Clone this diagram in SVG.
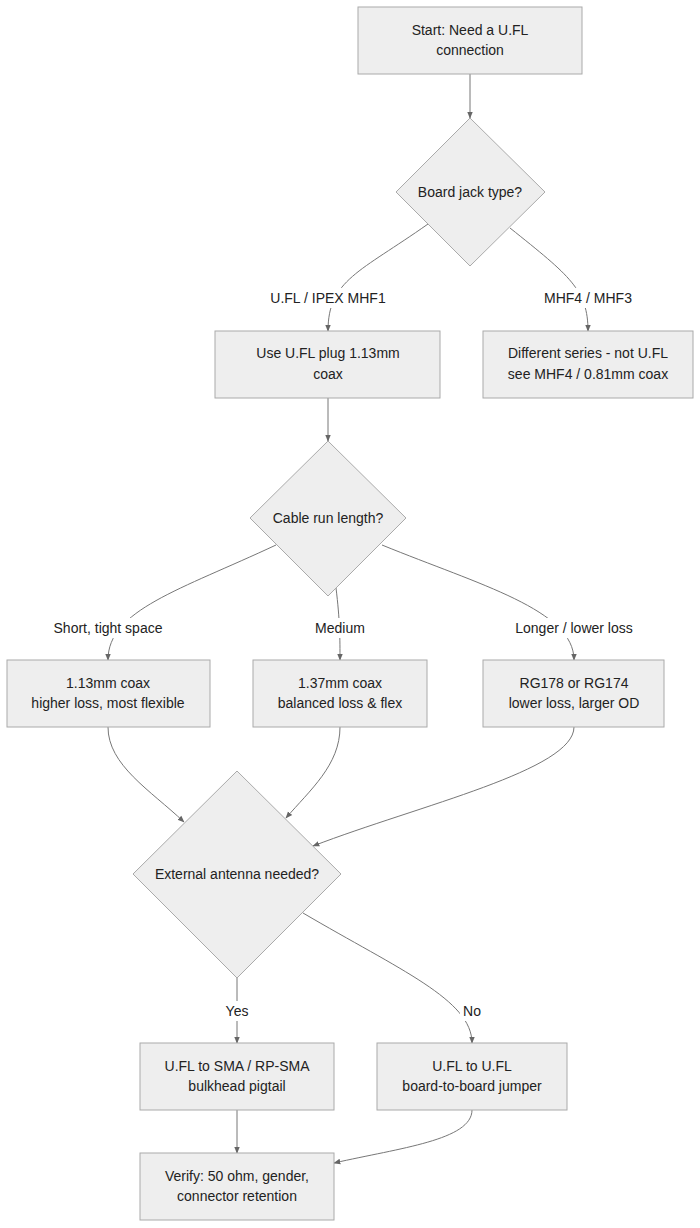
<svg xmlns="http://www.w3.org/2000/svg" width="700" height="1228" viewBox="0 0 700 1228">
<style>
.n{fill:#eeeeee;stroke:#aaaaaa;stroke-width:1}
.t{font-family:"Liberation Sans",Arial,sans-serif;font-size:14px;fill:#222;text-anchor:middle}
.e{fill:none;stroke:#777;stroke-width:1;marker-end:url(#a)}
.lb{fill:#fff}
</style>
<defs><marker id="a" viewBox="0 0 10 10" refX="9" refY="5" markerWidth="7" markerHeight="7" orient="auto"><path d="M0,1 L10,5 L0,9 z" fill="#666"/></marker></defs>
<rect width="700" height="1228" fill="#fff"/>
<g id="connectors">
<path class="e" d="M470,74 L470,118"/>
<path class="e" d="M428,224 C360,272 328,280 328,331"/>
<path class="e" d="M510,228 C570,276 588,290 588,331"/>
<path class="e" d="M328,398 L328,441"/>
<path class="e" d="M276,545 C180,590 108,610 108,660"/>
<path class="e" d="M336,588 C340,620 340,640 340,660"/>
<path class="e" d="M382,545 C480,585 574,610 574,660"/>
<path class="e" d="M108,727 C108,765 150,790 184,822"/>
<path class="e" d="M340,727 C340,765 310,790 286,818"/>
<path class="e" d="M574,727 C574,770 420,805 313,846"/>
<path class="e" d="M237,978 L237,1043"/>
<path class="e" d="M303,913 C400,970 472,1000 472,1043"/>
<path class="e" d="M237,1110 L237,1153"/>
<path class="e" d="M472,1110 C472,1140 400,1148 334,1163"/>
<rect class="lb" x="268" y="288" width="120" height="20"/>
<text class="t" x="328" y="303">U.FL / IPEX MHF1</text>
<rect class="lb" x="542" y="288" width="92" height="20"/>
<text class="t" x="588" y="303">MHF4 / MHF3</text>
<rect class="lb" x="52" y="618" width="112" height="20"/>
<text class="t" x="108" y="633">Short, tight space</text>
<rect class="lb" x="313" y="618" width="54" height="20"/>
<text class="t" x="340" y="633">Medium</text>
<rect class="lb" x="512" y="618" width="124" height="20"/>
<text class="t" x="574" y="633">Longer / lower loss</text>
<rect class="lb" x="222" y="1001" width="30" height="20"/>
<text class="t" x="237" y="1016">Yes</text>
<rect class="lb" x="460" y="1001" width="24" height="20"/>
<text class="t" x="472" y="1016">No</text>
</g>
<g id="start"><rect class="n" x="358" y="7" width="224" height="67"/><text class="t" x="470" y="35">Start: Need a U.FL</text><text class="t" x="470" y="55">connection</text></g>
<g id="d1"><polygon class="n" points="470,118 545,192 470,266 396,192"/><text class="t" x="470" y="197">Board jack type?</text></g>
<g id="b2"><rect class="n" x="215" y="331" width="225" height="67"/><text class="t" x="328" y="358">Use U.FL plug 1.13mm</text><text class="t" x="328" y="379">coax</text></g>
<g id="b3"><rect class="n" x="483" y="331" width="210" height="67"/><text class="t" x="588" y="358">Different series - not U.FL</text><text class="t" x="588" y="379">see MHF4 / 0.81mm coax</text></g>
<g id="d2"><polygon class="n" points="328,441 406,518 328,596 250,518"/><text class="t" x="328" y="523">Cable run length?</text></g>
<g id="bA"><rect class="n" x="7" y="660" width="203" height="67"/><text class="t" x="108" y="688">1.13mm coax</text><text class="t" x="108" y="708">higher loss, most flexible</text></g>
<g id="bB"><rect class="n" x="253" y="660" width="174" height="67"/><text class="t" x="340" y="688">1.37mm coax</text><text class="t" x="340" y="708">balanced loss &amp; flex</text></g>
<g id="bC"><rect class="n" x="483" y="660" width="181" height="67"/><text class="t" x="574" y="688">RG178 or RG174</text><text class="t" x="574" y="708">lower loss, larger OD</text></g>
<g id="d3"><polygon class="n" points="237,771 341,874 237,978 133,874"/><text class="t" x="237" y="879">External antenna needed?</text></g>
<g id="bD"><rect class="n" x="140" y="1043" width="194" height="67"/><text class="t" x="237" y="1071">U.FL to SMA / RP-SMA</text><text class="t" x="237" y="1091">bulkhead pigtail</text></g>
<g id="bE"><rect class="n" x="377" y="1043" width="190" height="67"/><text class="t" x="472" y="1071">U.FL to U.FL</text><text class="t" x="472" y="1091">board-to-board jumper</text></g>
<g id="final"><rect class="n" x="140" y="1153" width="194" height="67"/><text class="t" x="237" y="1181">Verify: 50 ohm, gender,</text><text class="t" x="237" y="1201">connector retention</text></g>
</svg>
